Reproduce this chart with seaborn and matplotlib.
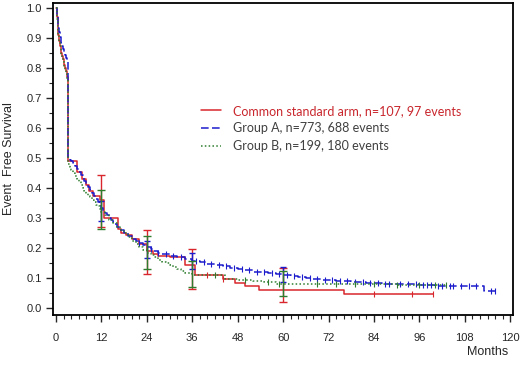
import numpy as np
import pandas as pd
import seaborn as sns
import matplotlib.pyplot as plt
from matplotlib.ticker import MultipleLocator

# step curves (months, event free survival)
red_t = [0, 0.2, 0.4, 0.6, 0.8, 1.0, 1.2, 1.4, 1.6, 1.8, 2.0, 2.2, 2.4, 2.6, 2.8, 3.0, 3.2, 5.5, 6.8, 7.8, 8.8, 9.8, 11.5, 12.6, 16.3, 17.2, 18.5, 20, 22, 24, 25.5, 27, 30, 34, 36.8, 44, 47.3, 50, 53.7, 76, 99.7]
red_s = [1.0, 0.97, 0.94, 0.91, 0.89, 0.875, 0.86, 0.85, 0.84, 0.83, 0.82, 0.81, 0.80, 0.79, 0.78, 0.77, 0.49, 0.455, 0.43, 0.41, 0.39, 0.375, 0.36, 0.30, 0.265, 0.25, 0.245, 0.23, 0.215, 0.19, 0.18, 0.175, 0.17, 0.143, 0.11, 0.097, 0.085, 0.075, 0.062, 0.047, 0.047]

blue_t = [0, 0.2, 0.4, 0.6, 0.8, 1.0, 1.2, 1.4, 1.6, 1.8, 2.0, 2.2, 2.4, 2.6, 2.8, 3.0, 3.2, 3.6, 4.0, 4.5, 5.0, 5.5, 6, 6.5, 7, 7.5, 8, 8.5, 9, 9.5, 10, 10.5, 11, 11.5, 12, 12.5, 13, 13.5, 14, 14.5, 15, 15.5, 16, 17, 18, 19, 20, 21, 22, 23, 24, 25, 26, 27, 28, 30, 32, 34, 36, 38, 40, 42, 44, 46, 48, 50, 52, 54, 56, 58, 60, 62, 64, 66, 68, 70, 74, 78, 82, 86, 90, 96, 100, 106, 110, 113, 116]
blue_s = [1.0, 0.975, 0.955, 0.935, 0.92, 0.905, 0.895, 0.885, 0.875, 0.865, 0.86, 0.85, 0.845, 0.835, 0.83, 0.82, 0.50, 0.495, 0.49, 0.485, 0.475, 0.465, 0.455, 0.445, 0.435, 0.425, 0.415, 0.405, 0.395, 0.385, 0.375, 0.365, 0.355, 0.345, 0.335, 0.325, 0.318, 0.31, 0.302, 0.295, 0.288, 0.28, 0.272, 0.26, 0.25, 0.24, 0.232, 0.225, 0.218, 0.21, 0.203, 0.197, 0.19, 0.185, 0.18, 0.175, 0.17, 0.165, 0.158, 0.153, 0.148, 0.143, 0.14, 0.135, 0.13, 0.126, 0.122, 0.12, 0.117, 0.114, 0.11, 0.106, 0.103, 0.10, 0.097, 0.095, 0.091, 0.088, 0.085, 0.082, 0.08, 0.077, 0.075, 0.074, 0.073, 0.056, 0.056]

green_t = [0, 0.2, 0.4, 0.6, 0.8, 1.0, 1.2, 1.4, 1.6, 1.8, 2.0, 2.2, 2.4, 2.6, 2.8, 3.0, 3.2, 3.6, 4, 4.5, 5, 5.5, 6, 6.5, 7, 7.5, 8, 8.5, 9, 9.5, 10, 10.5, 11, 11.5, 12, 13, 14, 15, 16, 17, 18, 19, 20, 21, 22, 23, 24, 25, 26, 27, 28, 29, 30, 31, 32, 33, 34, 36, 40, 44.6, 48, 52, 55, 58, 70, 80, 90, 103]
green_s = [1.0, 0.965, 0.935, 0.91, 0.89, 0.875, 0.86, 0.845, 0.835, 0.825, 0.815, 0.805, 0.795, 0.785, 0.77, 0.76, 0.48, 0.47, 0.46, 0.45, 0.44, 0.43, 0.42, 0.41, 0.40, 0.39, 0.385, 0.375, 0.37, 0.36, 0.355, 0.345, 0.34, 0.33, 0.32, 0.31, 0.295, 0.283, 0.27, 0.26, 0.25, 0.237, 0.225, 0.215, 0.205, 0.195, 0.185, 0.177, 0.17, 0.162, 0.155, 0.15, 0.145, 0.138, 0.13, 0.123, 0.117, 0.112, 0.11, 0.097, 0.095, 0.092, 0.087, 0.082, 0.081, 0.08, 0.079, 0.079]

# censoring times
red_cens = [40, 44, 84, 94, 99.7]
blue_cens = [22, 25, 27, 29, 31, 33, 37, 39, 41, 43, 45, 47, 49, 51, 53, 55, 57, 59, 61, 63, 65, 67, 69, 71, 73, 75, 77, 79, 81, 83, 85, 87, 88, 91, 93, 95, 97, 98, 99, 101, 102, 104, 105, 107, 109, 111, 115, 116]
green_cens = [42, 50, 56, 59, 69, 74, 79, 84, 90, 96, 100, 103]

# CI at landmark months: (lower, estimate, upper)
ci_months = [12, 24, 36, 60]
red_ci = [(0.27, 0.36, 0.445), (0.113, 0.19, 0.26), (0.063, 0.11, 0.197), (0.02, 0.075, 0.135)]
blue_ci = [(0.29, 0.325, 0.357), (0.167, 0.197, 0.223), (0.13, 0.156, 0.183), (0.087, 0.112, 0.137)]
green_ci = [(0.263, 0.33, 0.393), (0.13, 0.185, 0.24), (0.07, 0.112, 0.157), (0.04, 0.081, 0.123)]

labels = ['Common standard arm, n=107, 97 events',
          'Group A, n=773, 688 events',
          'Group B, n=199, 180 events']
colors = ['#d8262c', '#1c1ccc', '#2e7d2e']
styles = ['-', (0, (5, 2.2)), (0, (1, 1.5))]
text_colors = ['#c8262c', '#404040', '#404040']

sns.set_style('white')
plt.rcParams['font.family'] = ['Liberation Sans', 'DejaVu Sans']

fig = plt.figure(figsize=(5.2, 3.66), dpi=100)
ax = fig.add_axes([0.102, 0.139, 0.885, 0.853])

curves = [(red_t, red_s, red_cens, red_ci),
          (blue_t, blue_s, blue_cens, blue_ci),
          (green_t, green_s, green_cens, green_ci)]

handles = []
for (t, s, cens, ci), c, ls, lab in zip(curves, colors, styles, labels):
    df = pd.DataFrame({'Months': t, 'EFS': s})
    sns.lineplot(data=df, x='Months', y='EFS', drawstyle='steps-post', color=c,
                 linestyle=ls, linewidth=1.1, ax=ax, sort=False)
    handles.append(ax.lines[-1])
    # censor ticks on the step function
    t_arr = np.array(t)
    s_arr = np.array(s)
    idx = np.searchsorted(t_arr, cens, side='right') - 1
    ax.plot(cens, s_arr[idx], linestyle='none', marker='|', markersize=4,
            markeredgewidth=0.8, color=c)
    # confidence intervals
    lo = np.array([v[0] for v in ci])
    mid = np.array([v[1] for v in ci])
    hi = np.array([v[2] for v in ci])
    ax.errorbar(ci_months, mid, yerr=[mid - lo, hi - mid], fmt='none', ecolor=c,
                elinewidth=1.0, capsize=3 if c != colors[1] else 2.5, capthick=1.0)

ax.set_xlim(-0.8, 120.8)
ax.set_ylim(-0.023, 1.017)
ax.xaxis.set_major_locator(MultipleLocator(12))
ax.xaxis.set_minor_locator(MultipleLocator(2))
ax.yaxis.set_major_locator(MultipleLocator(0.1))
ax.yaxis.set_minor_locator(MultipleLocator(0.05))
ax.yaxis.set_major_formatter(plt.FuncFormatter(lambda v, p: f'{v:.1f}'))
ax.tick_params(which='major', direction='out', length=5, width=1.0, labelsize=8,
               bottom=True, left=True, pad=8)
ax.tick_params(which='minor', direction='out', length=3, width=0.8, bottom=True, left=True)
ax.tick_params(axis='y', pad=3)
for sp in ax.spines.values():
    sp.set_color('black')
    sp.set_linewidth(1.3)

ax.set_xlabel('')
ax.set_ylabel('Event  Free Survival', fontsize=9, labelpad=8)
fig.text(0.978, 0.022, 'Months', ha='right', va='bottom', fontsize=9)

leg = ax.legend(handles, labels, loc='upper left', bbox_to_anchor=(0.298, 0.71),
                frameon=False, handlelength=1.6, handletextpad=0.9, labelspacing=0.45,
                prop={'family': 'Lato', 'size': 9})
for txt, tc in zip(leg.get_texts(), text_colors):
    txt.set_color(tc)

fig.savefig('out.png', dpi=100)
